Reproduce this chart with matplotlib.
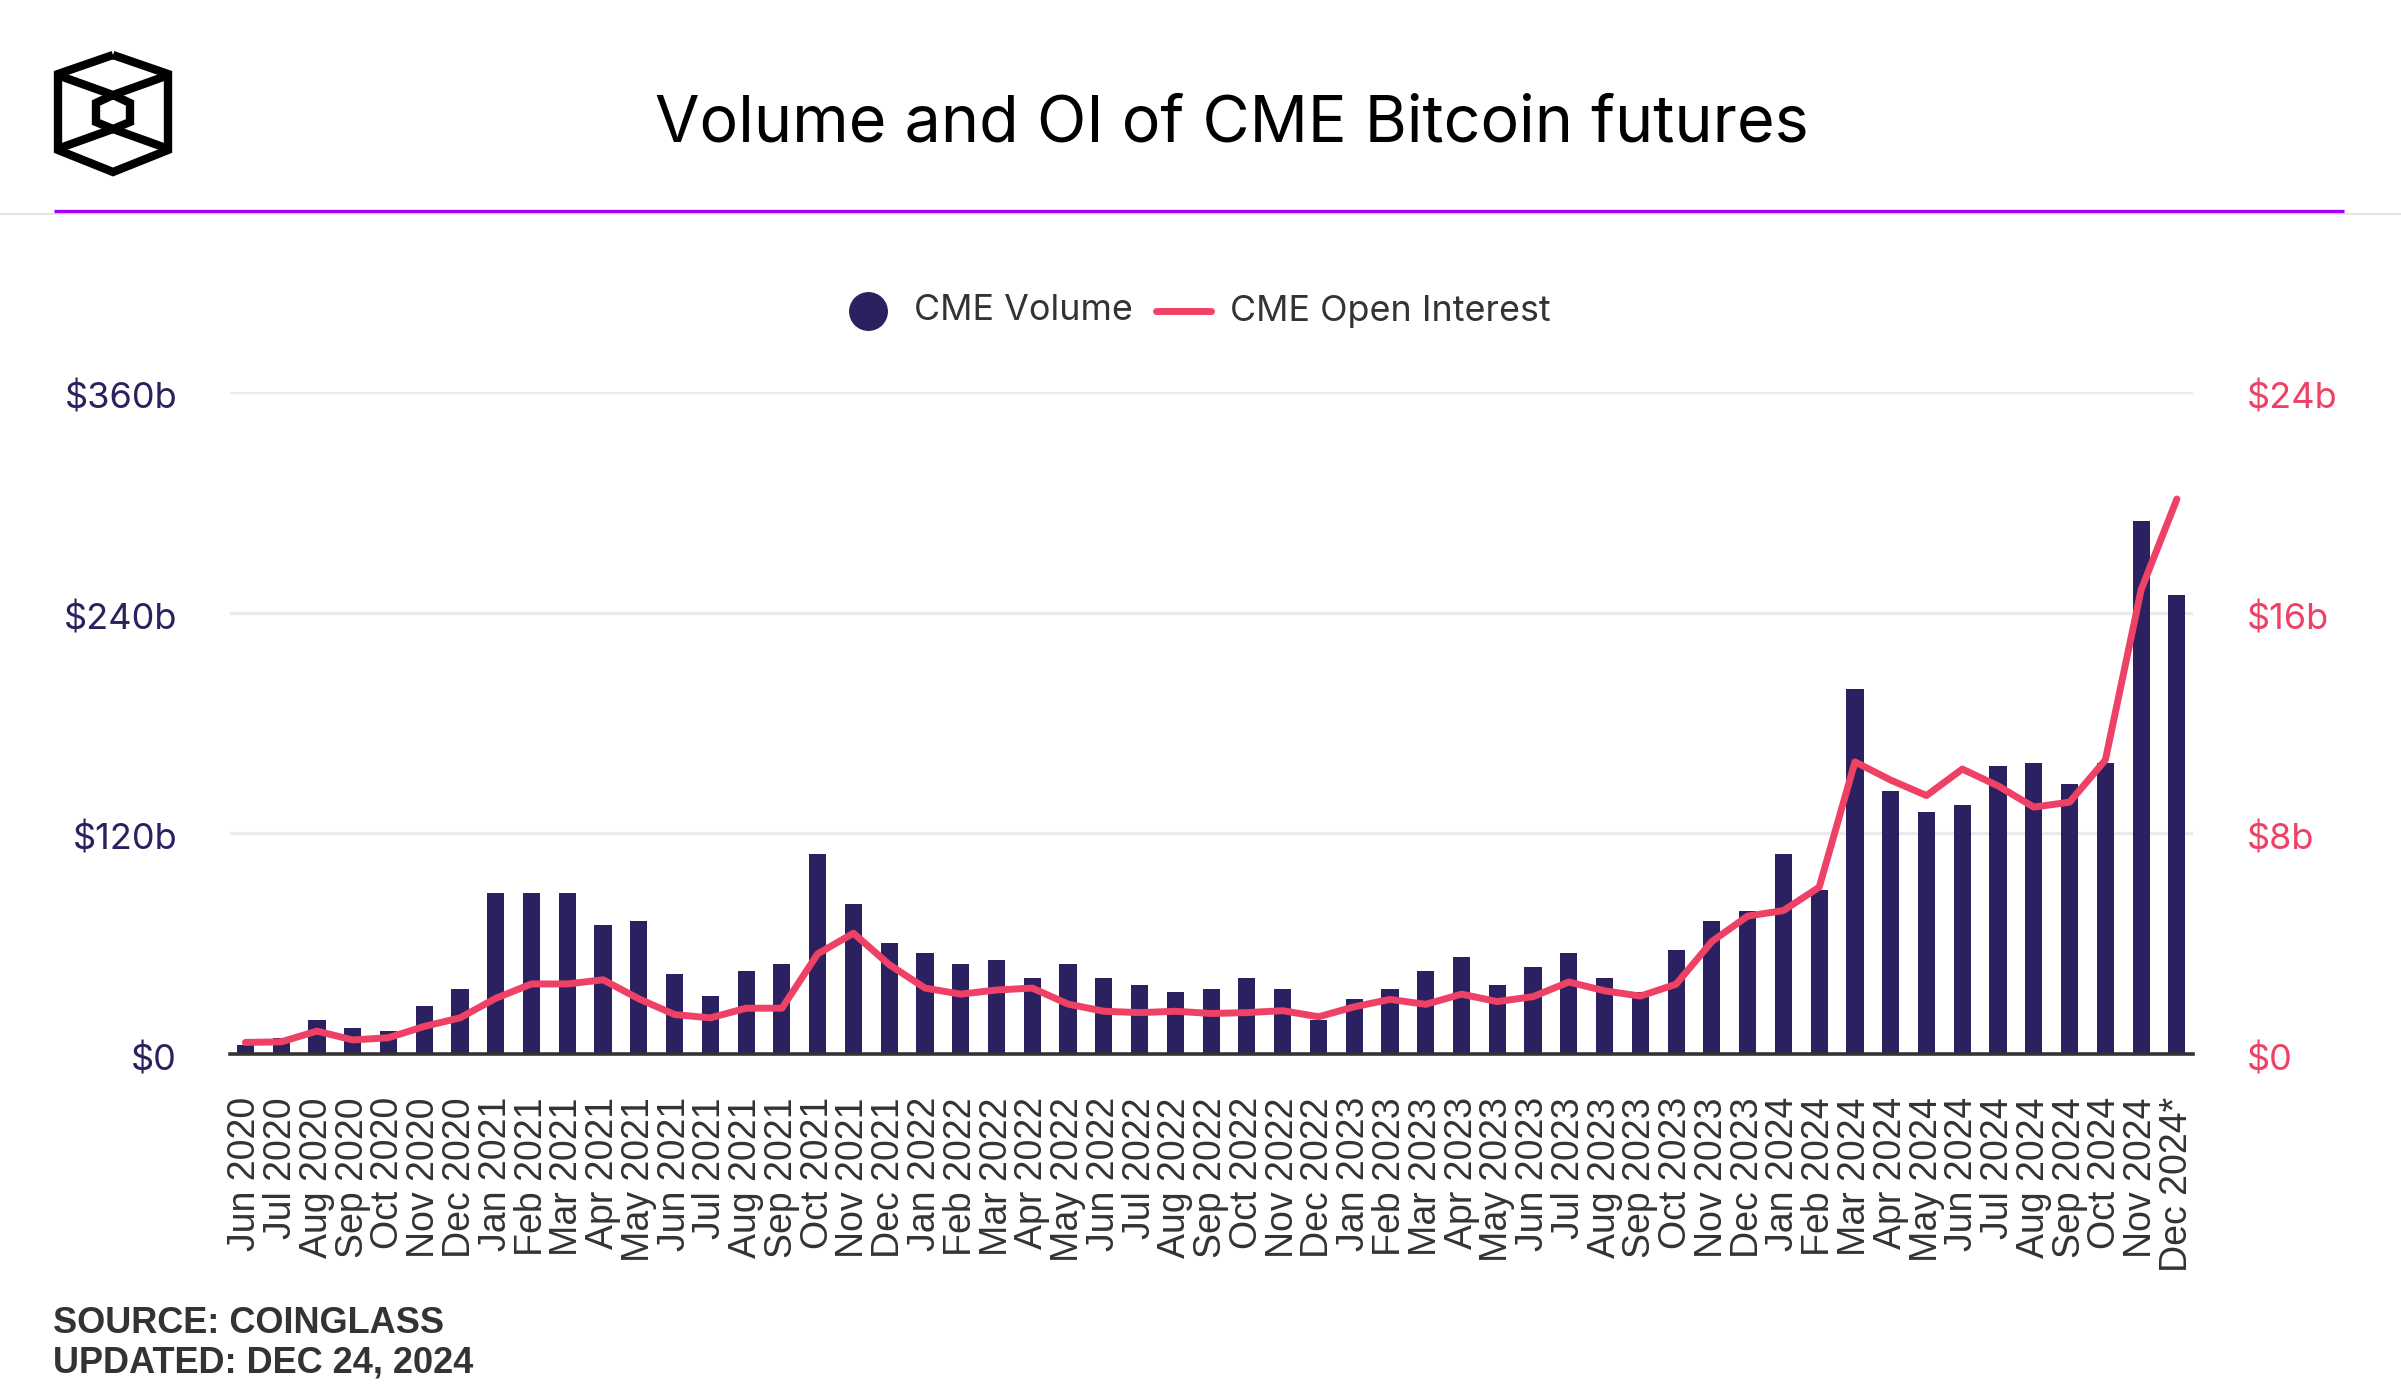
import numpy as np
import matplotlib.pyplot as plt
import matplotlib.transforms as mtransforms

# months shown on the x axis
months = ["Jun 2020", "Jul 2020", "Aug 2020", "Sep 2020", "Oct 2020", "Nov 2020", "Dec 2020",
          "Jan 2021", "Feb 2021", "Mar 2021", "Apr 2021", "May 2021", "Jun 2021", "Jul 2021",
          "Aug 2021", "Sep 2021", "Oct 2021", "Nov 2021", "Dec 2021",
          "Jan 2022", "Feb 2022", "Mar 2022", "Apr 2022", "May 2022", "Jun 2022", "Jul 2022",
          "Aug 2022", "Sep 2022", "Oct 2022", "Nov 2022", "Dec 2022",
          "Jan 2023", "Feb 2023", "Mar 2023", "Apr 2023", "May 2023", "Jun 2023", "Jul 2023",
          "Aug 2023", "Sep 2023", "Oct 2023", "Nov 2023", "Dec 2023",
          "Jan 2024", "Feb 2024", "Mar 2024", "Apr 2024", "May 2024", "Jun 2024", "Jul 2024",
          "Aug 2024", "Sep 2024", "Oct 2024", "Nov 2024", "Dec 2024*"]

# CME volume, $b (left axis)
volume = [5, 8.6, 18.3, 14.3, 12.5, 26, 35.6,
          87.7, 87.7, 87.7, 70.3, 72.3, 43.5, 31.7, 45.3, 49.2, 108.8, 81.8, 60.6,
          54.9, 49.2, 51, 41.3, 49.2, 41.3, 37.4, 33.6, 35.6, 41.3, 35.6, 18.3,
          29.7, 35.6, 45.1, 52.8, 37.4, 47.2, 54.9, 41.3, 33.6, 56.7, 72.1, 77.8,
          108.6, 89.4, 198.3, 143.0, 131.4, 135.2, 156.4, 158.2, 146.8, 158.2, 290, 249.8]

# CME open interest, $b (right axis)
open_interest = [0.42, 0.44, 0.83, 0.51, 0.59, 1.0, 1.31,
                 2.02, 2.54, 2.54, 2.69, 2.0, 1.43, 1.31, 1.66, 1.66, 3.63, 4.38, 3.24,
                 2.39, 2.17, 2.32, 2.39, 1.81, 1.55, 1.50, 1.55, 1.47, 1.50, 1.57, 1.35,
                 1.71, 1.98, 1.80, 2.17, 1.90, 2.08, 2.61, 2.29, 2.10, 2.53, 4.08, 5.0,
                 5.20, 6.05, 10.59, 9.93, 9.37, 10.33, 9.72, 8.95, 9.13, 10.66, 16.83, 20.12]

left_ticks = [0, 120, 240, 360]
left_labels = ["$0", "$120b", "$240b", "$360b"]
right_ticks = [0, 8, 16, 24]
right_labels = ["$0", "$8b", "$16b", "$24b"]

NAVY = "#2b2160"
PINK = "#ef4166"
TXT = "#333333"
W, H = 2401, 1400

fig = plt.figure(figsize=(W / 100, H / 100), dpi=100)

# overlay in pixel coordinates for header, logo and legend
ov = fig.add_axes([0, 0, 1, 1])
ov.set_xlim(0, W)
ov.set_ylim(H, 0)
ov.axis("off")

# header lines
ov.plot([0, W], [214, 214], color="#e4e4e4", lw=1.5)
ov.plot([54, 2344], [211, 211], color="#a000f5", lw=2.4, solid_capstyle="butt")

# logo (cube outline)
outer = np.array([(113, 55), (168, 74), (168, 150), (113, 172), (58, 150), (58, 74), (113, 55)])
inner = np.array([(113, 95), (130, 103), (130, 122), (113, 129), (96, 122), (96, 103), (113, 95)])
lk = dict(color="black", lw=6, solid_joinstyle="miter", solid_capstyle="butt")
ov.plot(outer[:, 0], outer[:, 1], **lk)
ov.plot(inner[:, 0], inner[:, 1], **lk)
ov.plot([60, 113, 166], [76, 95, 76], **lk)
ov.plot([60, 113, 166], [148, 129, 148], **lk)

# title
fig.text(1232 / W, 1 - 124 / H, "Volume and OI of CME Bitcoin futures", ha="center", va="center",
         fontsize=46.5, family="Inter", color="#000000")

# legend
ov.plot([868], [311], marker="o", ms=27, color=NAVY, ls="none")
ov.text(914, 311, "CME Volume", ha="left", va="center", fontsize=25.8, family="Inter", color=TXT)
ov.plot([1156, 1211], [311, 311], color=PINK, lw=5, solid_capstyle="round")
ov.text(1230, 311, "CME Open Interest", ha="left", va="center", fontsize=25.8, family="Inter", color=TXT)

# main chart
ax = fig.add_axes([230 / W, 1 - 1054 / H, (2193 - 230) / W, (1054 - 392) / H])
x = np.arange(len(months))
ax.bar(x, volume, width=0.48, color=NAVY, zorder=2)
ax.set_xlim(-0.43, len(months) - 0.55)
ax.set_ylim(0, 360)
for t in left_ticks[1:]:
    ax.axhline(t, color="#ebebeb", lw=2.4, zorder=0)
for s in ["top", "right", "left"]:
    ax.spines[s].set_visible(False)
ax.spines["bottom"].set_color(TXT)
ax.spines["bottom"].set_linewidth(2.6)
ax.spines["bottom"].set_zorder(4)

ax.set_xticks(x)
ax.set_xticklabels(months, rotation=90, fontsize=27, family="Liberation Sans", color=TXT)
ax.tick_params(axis="x", length=0, pad=31)
ax.set_yticks(left_ticks)
ax.set_yticklabels(left_labels, fontsize=26, family="Inter", color=NAVY)
ax.tick_params(axis="y", length=0, pad=38)

ax2 = ax.twinx()
ax2.plot(x, open_interest, color=PINK, lw=5, solid_capstyle="round", solid_joinstyle="round", zorder=5)
ax2.set_ylim(0, 24)
ax2.set_yticks(right_ticks)
ax2.set_yticklabels(right_labels, fontsize=26, family="Inter", color=PINK)
ax2.tick_params(axis="y", length=0, pad=39)
for s in ax2.spines.values():
    s.set_visible(False)

# tick labels sit a little below their gridlines
shift = mtransforms.ScaledTranslation(0, -3 / 100, fig.dpi_scale_trans)
for lab in ax.get_yticklabels() + ax2.get_yticklabels():
    lab.set_transform(lab.get_transform() + shift)

# footer
fig.text(53 / W, 1 - 1333 / H, "SOURCE: COINGLASS", ha="left", va="baseline", fontsize=26,
         weight="bold", family="Liberation Sans", color=TXT)
fig.text(53 / W, 1 - 1373 / H, "UPDATED: DEC 24, 2024", ha="left", va="baseline", fontsize=26,
         weight="bold", family="Liberation Sans", color=TXT)

fig.savefig("out.png", dpi=100)
